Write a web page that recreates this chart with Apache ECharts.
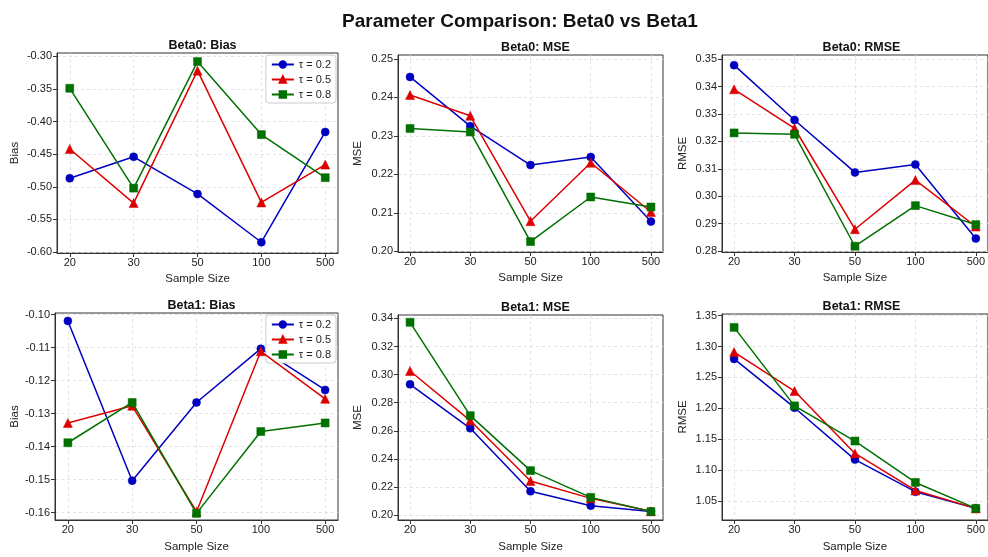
<!DOCTYPE html>
<html>
<head>
<meta charset="utf-8">
<script src="https://cdn.jsdelivr.net/npm/echarts@6/dist/echarts.min.js"></script>
<style>html,body{margin:0;padding:0;background:#fff}#c{width:988px;height:557px}</style>
</head>
<body>
<div id="c"></div>
<script>
// ---- data ----
const sampleSizes = ['20', '30', '50', '100', '500'];
const xPositions = [0, 1, 2, 3, 4];
const tauLabels = ['τ = 0.2', 'τ = 0.5', 'τ = 0.8'];

const b0Bias02 = [-0.487, -0.454, -0.511, -0.585, -0.416];
const b0Bias05 = [-0.442, -0.525, -0.322, -0.524, -0.466];
const b0Bias08 = [-0.349, -0.502, -0.308, -0.420, -0.486];

const b0Mse02 = [0.2453, 0.2325, 0.2224, 0.2245, 0.2077];
const b0Mse05 = [0.2406, 0.2352, 0.2078, 0.2230, 0.2102];
const b0Mse08 = [0.2319, 0.2310, 0.2025, 0.2141, 0.2115];

const b0Rmse02 = [0.3478, 0.3278, 0.3087, 0.3116, 0.2846];
const b0Rmse05 = [0.3390, 0.3248, 0.2880, 0.3059, 0.2890];
const b0Rmse08 = [0.3231, 0.3226, 0.2818, 0.2966, 0.2897];

const b1Bias02 = [-0.1019, -0.1503, -0.1266, -0.1103, -0.1228];
const b1Bias05 = [-0.1328, -0.1276, -0.1597, -0.1111, -0.1255];
const b1Bias08 = [-0.1388, -0.1266, -0.1602, -0.1354, -0.1328];

const b1Mse02 = [0.2931, 0.2618, 0.2170, 0.2068, 0.2026];
const b1Mse05 = [0.3026, 0.2673, 0.2244, 0.2120, 0.2028];
const b1Mse08 = [0.3372, 0.2708, 0.2317, 0.2127, 0.2026];

const b1Rmse02 = [1.280, 1.201, 1.117, 1.065, 1.038];
const b1Rmse05 = [1.291, 1.228, 1.127, 1.067, 1.038];
const b1Rmse08 = [1.331, 1.204, 1.147, 1.080, 1.038];

const b0BiasTicks = [-0.60, -0.55, -0.50, -0.45, -0.40, -0.35, -0.30];
const b0MseTicks = [0.20, 0.21, 0.22, 0.23, 0.24, 0.25];
const b0RmseTicks = [0.28, 0.29, 0.30, 0.31, 0.32, 0.33, 0.34, 0.35];
const b1BiasTicks = [-0.16, -0.15, -0.14, -0.13, -0.12, -0.11, -0.10];
const b1MseTicks = [0.20, 0.22, 0.24, 0.26, 0.28, 0.30, 0.32, 0.34];
const b1RmseTicks = [1.05, 1.10, 1.15, 1.20, 1.25, 1.30, 1.35];

const panelTitles = ['Beta0: Bias', 'Beta0: MSE', 'Beta0: RMSE', 'Beta1: Bias', 'Beta1: MSE', 'Beta1: RMSE'];
const yNames = ['Bias', 'MSE', 'RMSE', 'Bias', 'MSE', 'RMSE'];

// ---- layout / style ----
const FONT = "'Liberation Sans', Arial, sans-serif";
const colors = ['#0000c0', '#dd0000', '#007000'];
const symbols = ['circle', 'triangle', 'rect'];
const symbolSizes = [8, 9, 8];

const panels = [
  { grid: { left: 57, top: 53, width: 281, height: 200 }, y: [-0.6015, -0.2949], ticks: b0BiasTicks, series: [b0Bias02, b0Bias05, b0Bias08], yGap: 36, xGap: 20 },
  { grid: { left: 398, top: 55, width: 265, height: 197 }, y: [0.1998, 0.2510], ticks: b0MseTicks, series: [b0Mse02, b0Mse05, b0Mse08], yGap: 34, xGap: 20 },
  { grid: { left: 722, top: 55, width: 269, height: 197 }, y: [0.2797, 0.3515], ticks: b0RmseTicks, series: [b0Rmse02, b0Rmse05, b0Rmse08], yGap: 33, xGap: 20 },
  { grid: { left: 55, top: 313, width: 283, height: 207 }, y: [-0.1622, -0.0995], ticks: b1BiasTicks, series: [b1Bias02, b1Bias05, b1Bias08], yGap: 34, xGap: 21 },
  { grid: { left: 398, top: 315, width: 265, height: 205 }, y: [0.1966, 0.3424], ticks: b1MseTicks, series: [b1Mse02, b1Mse05, b1Mse08], yGap: 34, xGap: 21 },
  { grid: { left: 722, top: 314, width: 269, height: 206 }, y: [1.0192, 1.3527], ticks: b1RmseTicks, series: [b1Rmse02, b1Rmse05, b1Rmse08], yGap: 33, xGap: 21 }
];

const grids = [], xAxes = [], yAxes = [], series = [], titles = [];
titles.push({ text: 'Parameter Comparison: Beta0 vs Beta1', left: 515, top: 7, textAlign: 'center',
  textStyle: { fontFamily: FONT, fontSize: 19, fontWeight: 'bold', color: '#111' } });

const axisLineStyle = { color: '#333', width: 1 };
const splitStyle = { show: true, lineStyle: { type: [3, 3], color: '#dcdcdc', width: 0.8 } };

panels.forEach((p, i) => {
  grids.push(Object.assign({ show: true, borderColor: '#333', borderWidth: 1, backgroundColor: '#fff', containLabel: false }, p.grid));
  titles.push({ text: panelTitles[i], left: p.grid.left + p.grid.width / 2, top: p.grid.top - 19, textAlign: 'center',
    textStyle: { fontFamily: FONT, fontSize: 12.5, fontWeight: 'bold', color: '#111' } });
  xAxes.push({
    gridIndex: i, type: 'value', min: -0.2, max: 4.2,
    name: 'Sample Size', nameLocation: 'middle', nameGap: p.xGap,
    nameTextStyle: { fontFamily: FONT, fontSize: 11.5, color: '#222' },
    axisLine: { show: true, onZero: false, lineStyle: axisLineStyle },
    axisTick: { show: true, length: 4, lineStyle: axisLineStyle, customValues: xPositions },
    axisLabel: { fontFamily: FONT, fontSize: 11, color: '#222', margin: 4, customValues: xPositions,
      formatter: v => sampleSizes[Math.round(v)] },
    splitLine: splitStyle
  });
  yAxes.push({
    gridIndex: i, type: 'value', min: p.y[0], max: p.y[1],
    name: yNames[i], nameLocation: 'middle', nameGap: p.yGap, nameRotate: 90,
    nameTextStyle: { fontFamily: FONT, fontSize: 11.5, color: '#222' },
    axisLine: { show: true, onZero: false, lineStyle: axisLineStyle },
    axisTick: { show: true, length: 4, lineStyle: axisLineStyle, customValues: p.ticks },
    axisLabel: { fontFamily: FONT, fontSize: 11, color: '#222', margin: 5, customValues: p.ticks,
      formatter: v => v.toFixed(2) },
    splitLine: splitStyle
  });
  p.series.forEach((vals, k) => {
    series.push({
      name: tauLabels[k], type: 'line', xAxisIndex: i, yAxisIndex: i,
      data: vals.map((v, j) => [xPositions[j], v]),
      symbol: symbols[k], symbolSize: symbolSizes[k], showAllSymbol: true,
      lineStyle: { color: colors[k], width: 1.5 },
      itemStyle: { color: colors[k], borderColor: colors[k], borderWidth: 0.5 },
      emphasis: { disabled: true }, animation: false, z: 3 + k
    });
  });
});

const legendBase = {
  orient: 'vertical', data: tauLabels, itemWidth: 22, itemHeight: 8, itemGap: 4,
  padding: [4, 5, 3, 5], backgroundColor: '#fff', borderColor: '#cccccc', borderWidth: 1, borderRadius: 3,
  textStyle: { fontFamily: FONT, fontSize: 11, color: '#222' }, selectedMode: false
};
const legends = [
  Object.assign({}, legendBase, { right: 652, top: 55 }),
  Object.assign({}, legendBase, { right: 652, top: 315 })
];

const chart = echarts.init(document.getElementById('c'), null, { renderer: 'canvas' });
chart.setOption({
  backgroundColor: '#fff', animation: false,
  title: titles, grid: grids, xAxis: xAxes, yAxis: yAxes, legend: legends, series: series
});
</script>
</body>
</html>
